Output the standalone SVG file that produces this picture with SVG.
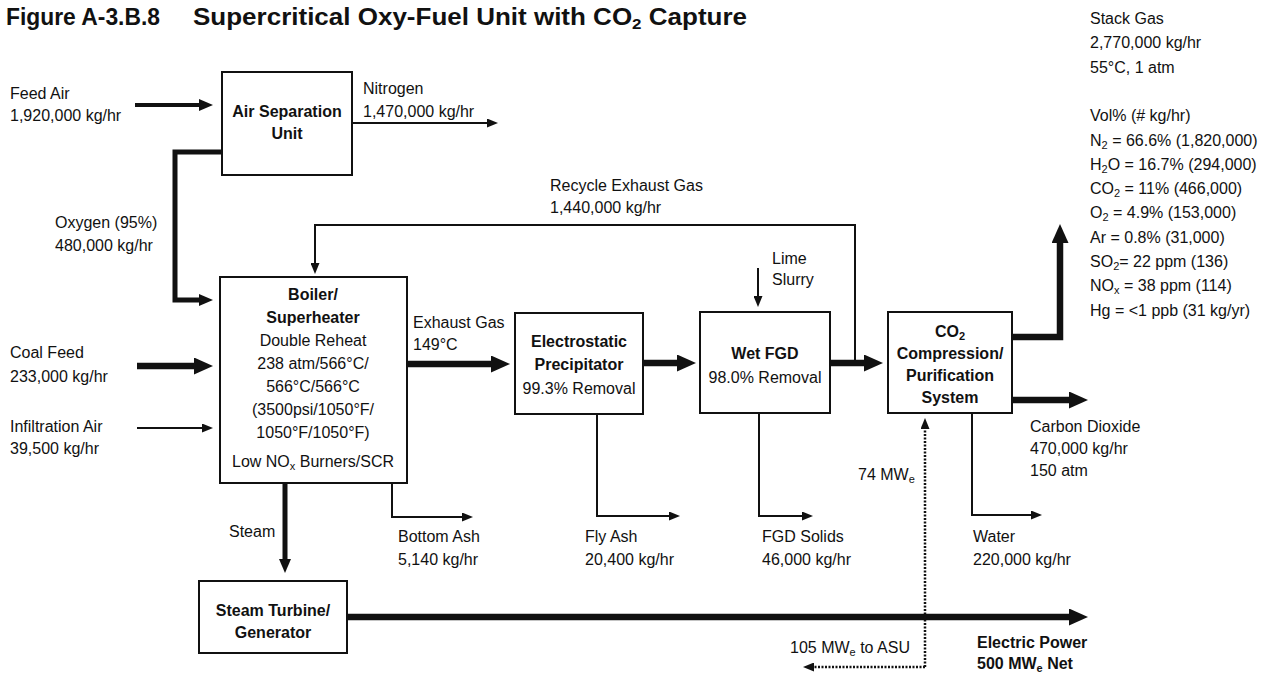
<svg xmlns="http://www.w3.org/2000/svg" width="1270" height="673" viewBox="0 0 1270 673">
<style>
text{font-family:"Liberation Sans",Arial,sans-serif;font-size:16px;fill:#111}
.b{font-weight:bold}
.c{text-anchor:middle}
.t{font-weight:bold;font-size:23px}
.box{fill:#fff;stroke:#111;stroke-width:2}
.ln{fill:none;stroke:#111;stroke-linejoin:miter}
.w2{stroke-width:2}
.w4{stroke-width:4}
.w5{stroke-width:5}
.w6{stroke-width:6.5}
.dot{stroke-width:2.5;stroke-dasharray:2 1.5}
</style>
<defs>
<marker id="aL" markerUnits="userSpaceOnUse" markerWidth="19" markerHeight="17" viewBox="0 0 19 17" refX="0" refY="8.5" orient="auto"><path d="M0,0 L19,8.5 L0,17 z" fill="#111"/></marker>
<marker id="aM" markerUnits="userSpaceOnUse" markerWidth="14" markerHeight="12" viewBox="0 0 14 12" refX="0" refY="6" orient="auto"><path d="M0,0 L14,6 L0,12 z" fill="#111"/></marker>
<marker id="aS" markerUnits="userSpaceOnUse" markerWidth="11" markerHeight="9" viewBox="0 0 11 9" refX="0" refY="4.5" orient="auto"><path d="M0,0 L11,4.5 L0,9 z" fill="#111"/></marker>
</defs>
<rect width="1270" height="673" fill="#fff"/>
<text x="6" y="25" class="t" textLength="154" lengthAdjust="spacingAndGlyphs">Figure A-3.B.8</text>
<text x="193" y="25" class="t" textLength="554" lengthAdjust="spacingAndGlyphs">Supercritical Oxy-Fuel Unit with CO<tspan dy="4" font-size="15">2</tspan><tspan dy="-4"> Capture</tspan></text>

<g id="connectors">
<path class="ln w4" d="M135,105 H199" marker-end="url(#aM)"/>
<path class="ln w2" d="M352,123 H487" marker-end="url(#aS)"/>
<path class="ln w5" d="M222,152 H175 V300 H199" marker-end="url(#aM)"/>
<path class="ln w2" d="M855,363 V225 H315 V263" marker-end="url(#aS)"/>
<path class="ln w6" d="M137,366 H194" marker-end="url(#aL)"/>
<path class="ln w2" d="M137,428 H202" marker-end="url(#aS)"/>
<path class="ln w6" d="M407,364 H491" marker-end="url(#aL)"/>
<path class="ln w6" d="M643,363 H677" marker-end="url(#aL)"/>
<path class="ln w6" d="M830,363 H864" marker-end="url(#aL)"/>
<path class="ln w6" d="M1012,337 H1060 V243" marker-end="url(#aL)"/>
<path class="ln w6" d="M1012,400 H1069" marker-end="url(#aL)"/>
<path class="ln w2" d="M972,413 V515 H1031" marker-end="url(#aS)"/>
<path class="ln w2" d="M758,268 V296" marker-end="url(#aS)"/>
<path class="ln w2" d="M597,414 V516 H669" marker-end="url(#aS)"/>
<path class="ln w2" d="M759,413 V516 H802" marker-end="url(#aS)"/>
<path class="ln w2" d="M392,483 V517 H462" marker-end="url(#aS)"/>
<path class="ln w5" d="M285,483 V559" marker-end="url(#aM)"/>
<path class="ln w6" d="M347,617 H1069" marker-end="url(#aL)"/>
<path class="ln dot" d="M925,667 V429" marker-end="url(#aS)"/>
<path class="ln dot" d="M925,667 H814" marker-end="url(#aS)"/>
</g>

<g id="asu">
<rect class="box" x="222" y="72" width="130" height="103"/>
<text x="287" y="117" class="b c">Air Separation</text>
<text x="287" y="139" class="b c">Unit</text>
</g>

<g id="boiler">
<rect class="box" x="220" y="277" width="187" height="206"/>
<text x="313" y="300" class="b c">Boiler/</text>
<text x="313" y="323" class="b c">Superheater</text>
<text x="313" y="346" class="c">Double Reheat</text>
<text x="313" y="369" class="c">238 atm/566°C/</text>
<text x="313" y="392" class="c">566°C/566°C</text>
<text x="313" y="415" class="c">(3500psi/1050°F/</text>
<text x="313" y="438" class="c">1050°F/1050°F)</text>
<text x="313" y="467" class="c">Low NO<tspan dy="3" font-size="11">x</tspan><tspan dy="-3"> Burners/SCR</tspan></text>
</g>

<g id="esp">
<rect class="box" x="515" y="313" width="128" height="101"/>
<text x="579" y="347" class="b c">Electrostatic</text>
<text x="579" y="370" class="b c">Precipitator</text>
<text x="579" y="394" class="c">99.3% Removal</text>
</g>

<g id="fgd">
<rect class="box" x="700" y="312" width="130" height="101"/>
<text x="765" y="359" class="b c">Wet FGD</text>
<text x="765" y="383" class="c">98.0% Removal</text>
</g>

<g id="co2unit">
<rect class="box" x="888" y="312" width="124" height="101"/>
<text x="950" y="337" class="b c">CO<tspan dy="3" font-size="11">2</tspan></text>
<text x="950" y="359" class="b c">Compression/</text>
<text x="950" y="381" class="b c">Purification</text>
<text x="950" y="403" class="b c">System</text>
</g>

<g id="turbine">
<rect class="box" x="199" y="581" width="148" height="72"/>
<text x="273" y="616" class="b c">Steam Turbine/</text>
<text x="273" y="638" class="b c">Generator</text>
</g>

<g id="labels">
<text x="10" y="99">Feed Air</text>
<text x="10" y="121">1,920,000 kg/hr</text>
<text x="363" y="94">Nitrogen</text>
<text x="363" y="117">1,470,000 kg/hr</text>
<text x="55" y="228">Oxygen (95%)</text>
<text x="55" y="251">480,000 kg/hr</text>
<text x="550" y="191">Recycle Exhaust Gas</text>
<text x="550" y="213">1,440,000 kg/hr</text>
<text x="10" y="358">Coal Feed</text>
<text x="10" y="382">233,000 kg/hr</text>
<text x="10" y="432">Infiltration Air</text>
<text x="10" y="454">39,500 kg/hr</text>
<text x="413" y="328">Exhaust Gas</text>
<text x="413" y="350">149°C</text>
<text x="772" y="264">Lime</text>
<text x="772" y="285">Slurry</text>
<text x="229" y="537">Steam</text>
<text x="398" y="542">Bottom Ash</text>
<text x="398" y="565">5,140 kg/hr</text>
<text x="585" y="542">Fly Ash</text>
<text x="585" y="565">20,400 kg/hr</text>
<text x="762" y="542">FGD Solids</text>
<text x="762" y="565">46,000 kg/hr</text>
<text x="973" y="542">Water</text>
<text x="973" y="565">220,000 kg/hr</text>
<text x="858" y="480">74 MW<tspan dy="3" font-size="11">e</tspan></text>
<text x="1030" y="432">Carbon Dioxide</text>
<text x="1030" y="454">470,000 kg/hr</text>
<text x="1030" y="476">150 atm</text>
<text x="790" y="653">105 MW<tspan dy="3" font-size="11">e</tspan><tspan dy="-3"> to ASU</tspan></text>
<text x="977" y="648" class="b">Electric Power</text>
<text x="977" y="669" class="b">500 MW<tspan dy="3" font-size="11">e</tspan><tspan dy="-3"> Net</tspan></text>
</g>

<g id="stack-gas">
<text x="1090" y="24">Stack Gas</text>
<text x="1090" y="48">2,770,000 kg/hr</text>
<text x="1090" y="73">55°C, 1 atm</text>
<text x="1090" y="121">Vol% (# kg/hr)</text>
<text x="1090" y="146">N<tspan dy="3" font-size="11">2</tspan><tspan dy="-3"> = 66.6% (1,820,000)</tspan></text>
<text x="1090" y="170">H<tspan dy="3" font-size="11">2</tspan><tspan dy="-3">O = 16.7% (294,000)</tspan></text>
<text x="1090" y="194">CO<tspan dy="3" font-size="11">2</tspan><tspan dy="-3"> = 11% (466,000)</tspan></text>
<text x="1090" y="218">O<tspan dy="3" font-size="11">2</tspan><tspan dy="-3"> = 4.9% (153,000)</tspan></text>
<text x="1090" y="243">Ar = 0.8% (31,000)</text>
<text x="1090" y="267">SO<tspan dy="3" font-size="11">2</tspan><tspan dy="-3">= 22 ppm (136)</tspan></text>
<text x="1090" y="291">NO<tspan dy="3" font-size="11">x</tspan><tspan dy="-3"> = 38 ppm (114)</tspan></text>
<text x="1090" y="316">Hg = &lt;1 ppb (31 kg/yr)</text>
</g>
</svg>
